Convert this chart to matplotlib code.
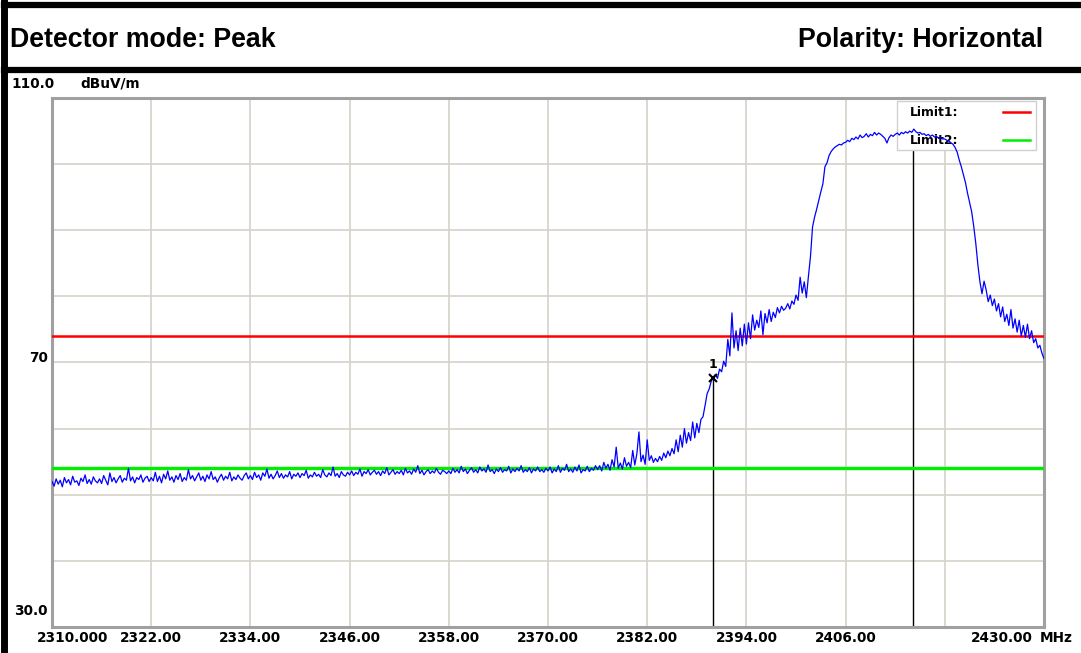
import numpy as np
import matplotlib
matplotlib.use("Agg")
import matplotlib.pyplot as plt
from matplotlib.transforms import blended_transform_factory, offset_copy
from matplotlib.patches import Rectangle
from matplotlib.lines import Line2D

# ---------------- data (levels in dBuV/m, 0.25 MHz apart) ----------------
f_start, f_stop, f_step = 2310.0, 2430.0, 0.25
level_2310 = [52.0, 51.3, 52.4, 51.6, 52.2, 51.2, 52.6, 51.8, 52.3, 51.5, 52.8, 51.9,
              52.1, 51.4, 52.5, 52.0, 53.0, 51.7, 52.3, 51.6, 52.7, 52.1, 51.8, 52.4]
level_2316 = [51.7, 52.9, 52.2, 51.5, 53.3, 52.0, 52.6, 51.8, 52.4, 52.9, 51.9, 52.5,
              52.2, 54.0, 52.1, 52.7, 51.8, 52.6, 52.3, 53.0, 51.9, 52.5, 52.8, 52.0]
level_2322 = [52.6, 52.1, 53.4, 52.0, 52.8, 51.8, 53.1, 52.4, 53.6, 52.2, 52.7, 51.9,
              52.9, 52.3, 53.2, 52.0, 52.6, 52.2, 53.8, 52.4, 52.9, 52.1, 52.7, 53.3]
level_2328 = [52.2, 52.8, 52.0, 53.0, 52.4, 53.5, 52.3, 52.7, 51.9, 52.6, 53.1, 52.2,
              52.8, 52.4, 53.4, 52.1, 52.7, 52.3, 53.0, 52.5, 52.2, 52.9, 53.3, 52.4]
level_2334 = [52.9, 52.3, 53.4, 52.6, 53.0, 52.2, 53.3, 52.8, 53.9, 52.5, 53.1, 52.4,
              52.9, 53.6, 52.6, 53.2, 52.5, 53.0, 52.7, 53.5, 52.4, 53.1, 52.8, 53.3]
level_2340 = [52.6, 53.2, 52.9, 53.7, 52.5, 53.0, 52.7, 53.4, 52.8, 53.1, 52.6, 53.8,
              53.0, 52.7, 53.3, 52.9, 54.2, 52.8, 53.2, 52.6, 53.5, 53.0, 52.8, 53.4]
level_2346 = [53.0, 53.6, 52.9, 53.4, 53.1, 53.9, 52.8, 53.5, 53.2, 53.8, 53.0, 53.4,
              53.7, 53.1, 53.5, 52.9, 53.6, 53.2, 54.1, 53.0, 53.4, 53.8, 53.1, 53.5]
level_2352 = [53.2, 53.7, 53.0, 54.0, 53.3, 53.6, 53.1, 53.9, 53.4, 54.4, 53.2, 53.7,
              53.0, 53.5, 53.8, 53.2, 53.6, 53.3, 54.0, 53.4, 53.1, 53.7, 53.5, 53.2]
level_2358 = [53.6, 53.2, 54.0, 53.4, 53.8, 53.3, 54.3, 53.5, 53.9, 53.2, 53.7, 54.1,
              53.4, 53.8, 53.3, 54.2, 53.6, 53.9, 53.4, 54.5, 53.5, 53.8, 53.2, 53.9]
level_2364 = [53.5, 54.1, 53.4, 53.8, 53.6, 54.3, 53.3, 53.9, 53.5, 54.0, 53.6, 54.4,
              53.4, 53.8, 53.5, 54.1, 53.3, 53.9, 53.6, 54.2, 53.5, 53.8, 53.4, 54.0]
level_2370 = [53.6, 54.2, 53.3, 53.9, 53.5, 54.4, 53.4, 54.0, 53.7, 54.6, 53.5, 53.9,
              53.4, 54.2, 53.6, 54.5, 53.3, 53.8, 53.6, 54.3, 53.5, 54.0, 53.7, 54.4]
level_2376 = [53.8, 54.4, 53.6, 54.9, 54.0, 54.6, 53.7, 55.3, 54.2, 57.2, 54.0, 54.8,
              53.9, 55.6, 54.3, 54.9, 54.1, 56.7, 54.5, 56.2, 59.5, 55.0, 56.0, 54.6]
level_2382 = [58.3, 55.2, 55.9, 54.9, 55.5, 55.0, 55.8, 55.2, 56.3, 55.6, 56.6, 55.9,
              57.0, 56.2, 58.3, 56.5, 59.0, 57.2, 60.0, 57.8, 59.4, 58.2, 61.0, 58.6]
level_2388 = [60.8, 59.4, 61.4, 61.8, 63.5, 65.3, 66.0, 67.2, 67.8, 68.2, 67.6, 69.0,
              68.6, 70.2, 69.4, 73.5, 71.0, 77.5, 72.2, 74.8, 71.8, 75.2, 72.5, 75.8]
level_2394 = [72.8, 76.0, 73.6, 77.2, 74.9, 76.4, 75.3, 77.8, 74.2, 77.4, 76.0, 78.0,
              76.2, 77.6, 76.8, 78.3, 77.5, 78.5, 77.9, 78.2, 78.9, 78.1, 79.3, 78.8]
level_2400 = [80.2, 79.4, 82.9, 80.5, 82.2, 79.8, 83.0, 86.0, 90.5, 92.0, 93.2, 94.5,
              95.8, 97.0, 99.6, 100.2, 101.3, 101.9, 102.3, 102.6, 102.8, 103.0, 102.9, 103.2]
level_2406 = [103.3, 103.6, 103.4, 103.9, 103.7, 104.1, 103.8, 104.4, 104.0, 104.2, 104.6, 104.1,
              104.5, 104.3, 104.8, 104.4, 104.7, 104.5, 104.2, 103.9, 103.2, 104.0, 104.4, 104.2]
level_2412 = [104.5, 104.7, 104.4, 104.8, 104.6, 104.9, 104.7, 105.0, 104.8, 105.3, 104.9, 104.7,
              104.8, 104.5, 104.6, 104.3, 104.5, 104.2, 104.4, 104.1, 104.2, 103.9, 104.0, 103.8]
level_2418 = [103.8, 103.6, 103.5, 103.2, 103.0, 102.5, 101.8, 100.6, 99.6, 98.4, 97.2, 95.6,
              94.2, 92.8, 90.6, 88.0, 84.8, 82.2, 80.4, 82.3, 81.0, 79.2, 80.2, 78.6]
level_2424 = [79.6, 77.8, 78.9, 76.9, 78.4, 76.2, 77.3, 75.6, 78.0, 75.2, 76.6, 74.6,
              76.4, 74.0, 75.6, 73.8, 75.8, 73.6, 74.8, 73.0, 73.6, 72.2, 72.6, 71.4]
level_2430 = [70.6]

limit1 = 74.0
limit2 = 54.0
marker1_freq, marker1_level = 2389.9, 67.6
marker2_freq, marker2_level = 2414.1, 105.2

x_ticks = [2310, 2322, 2334, 2346, 2358, 2370, 2382, 2394, 2406, 2418, 2430]
x_tick_labels = ["2310.000", "2322.00", "2334.00", "2346.00", "2358.00", "2370.00",
                 "2382.00", "2394.00", "2406.00", "", "2430.00"]
y_grid = [40, 50, 60, 70, 80, 90, 100]
y_min, y_max = 30.0, 110.0

groups = [level_2310, level_2316, level_2322, level_2328, level_2334, level_2340,
          level_2346, level_2352, level_2358, level_2364, level_2370, level_2376,
          level_2382, level_2388, level_2394, level_2400, level_2406, level_2412,
          level_2418, level_2424, level_2430]
levels = [v for g in groups for v in g]
freqs = f_start + f_step * np.arange(len(levels))

# ---------------- figure ----------------
W, H = 1081, 653
fig = plt.figure(figsize=(W / 100, H / 100), dpi=100)
fig.patch.set_facecolor("white")

# header frame
fig.add_artist(Line2D([4 / W, 4 / W], [0, 1], transform=fig.transFigure, color="black", lw=5))
fig.add_artist(Line2D([4 / W, 1], [1 - 5 / H, 1 - 5 / H], transform=fig.transFigure, color="black", lw=4.5))
fig.add_artist(Line2D([4 / W, 1], [1 - 69.5 / H, 1 - 69.5 / H], transform=fig.transFigure, color="black", lw=4.5))

hfont = dict(family=["Liberation Sans", "DejaVu Sans"], weight="bold", size=19.3)
fig.text(10 / W, 1 - 40 / H, "Detector mode: Peak", ha="left", va="center", **hfont)
fig.text(1043 / W, 1 - 40 / H, "Polarity: Horizontal", ha="right", va="center", **hfont)

ax = fig.add_axes([52 / W, 1 - 627 / H, (1044 - 52) / W, (627 - 98) / H])
ax.set_xlim(f_start, f_stop)
ax.set_ylim(y_min, y_max)
ax.set_xticks([])
ax.set_yticks([])
for s in ax.spines.values():
    s.set_color("#a0a0a0")
    s.set_linewidth(2.2)

grid_c = "#d6d2ca"
for t in x_ticks[1:-1]:
    ax.axvline(t, color=grid_c, lw=1.2, zorder=1)
for g in y_grid:
    ax.axhline(g, color=grid_c, lw=1.2, zorder=1)

ax.axhline(limit1, color="#ff0000", lw=1.8, zorder=3)
ax.axhline(limit2, color="#00ee00", lw=2.4, zorder=3)

# markers
ax.plot([marker1_freq, marker1_freq], [y_min, marker1_level], color="black", lw=1.0, zorder=2)
ax.plot([marker2_freq, marker2_freq], [y_min, marker2_level], color="black", lw=1.0, zorder=2)

# legend box
lfont = dict(family=["DejaVu Sans"], weight="bold", size=8.9)
leg = Rectangle((897 / W, 1 - 150 / H), (1036 - 897) / W, (150 - 101) / H,
                transform=fig.transFigure, facecolor="white", edgecolor="#d0d0d0", lw=1.0, zorder=4)
ax.add_patch(leg)
leg.set_clip_on(False)
ax.text(910 / W, 1 - 112 / H, "Limit1:", transform=fig.transFigure, ha="left", va="center", zorder=5, **lfont)
ax.text(910 / W, 1 - 140 / H, "Limit2:", transform=fig.transFigure, ha="left", va="center", zorder=5, **lfont)
ax.add_line(Line2D([1003 / W, 1030 / W], [1 - 112 / H] * 2, transform=fig.transFigure, color="#ff0000", lw=1.8, zorder=5))
ax.add_line(Line2D([1003 / W, 1030 / W], [1 - 140 / H] * 2, transform=fig.transFigure, color="#00ee00", lw=1.8, zorder=5))

# trace
ax.plot(freqs, levels, color="#0000ff", lw=0.9, zorder=6)

ax.plot([marker1_freq], [marker1_level], marker="x", color="black", ms=6, mew=1.5, zorder=7)
ax.annotate("1", (marker1_freq, marker1_level), xytext=(0, 14), textcoords="offset pixels",
            ha="center", va="center", fontsize=9, fontweight="bold", zorder=7)

# tick labels
tfont = dict(family=["DejaVu Sans"], weight="bold", size=9.8)
bx = blended_transform_factory(ax.transData, ax.transAxes)
for i, (t, lab) in enumerate(zip(x_ticks, x_tick_labels)):
    if not lab:
        continue
    if i == 0:
        tr = offset_copy(bx, fig=fig, x=-15, y=-11, units="dots")
        ha = "left"
    elif i == len(x_ticks) - 1:
        tr = offset_copy(bx, fig=fig, x=-11, y=-11, units="dots")
        ha = "right"
    else:
        tr = offset_copy(bx, fig=fig, x=0, y=-11, units="dots")
        ha = "center"
    ax.text(t, 0, lab, transform=tr, ha=ha, va="center", **tfont)
ax.text(f_stop, 0, "MHz", transform=offset_copy(bx, fig=fig, x=-4, y=-11, units="dots"),
        ha="left", va="center", **tfont)

by = blended_transform_factory(ax.transAxes, ax.transData)
ax.text(0, 70, "70", transform=offset_copy(by, fig=fig, x=-4, y=4, units="dots"), ha="right", va="center", **tfont)
ax.text(0, y_min, "30.0", transform=offset_copy(by, fig=fig, x=-4, y=16, units="dots"), ha="right", va="center", **tfont)
ax.text(0, y_max, "110.0", transform=offset_copy(by, fig=fig, x=3, y=14, units="dots"), ha="right", va="center", **tfont)
ax.text(0, y_max, "dBuV/m", transform=offset_copy(by, fig=fig, x=28, y=14, units="dots"), ha="left", va="center", **tfont)

fig.savefig("out.png", dpi=100)
